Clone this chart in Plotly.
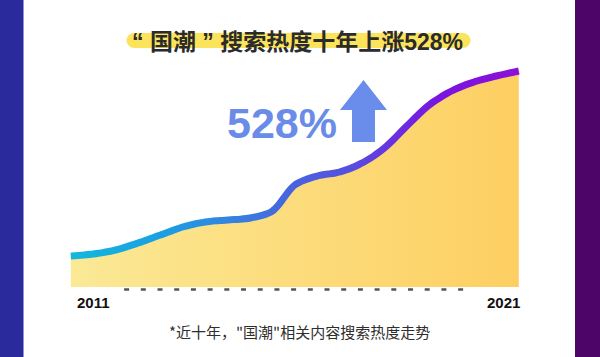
import plotly.graph_objects as go
from plotly.colors import sample_colorscale

# ---------------- data ----------------
years = [2011, 2011.5, 2012, 2012.5, 2013, 2013.5, 2014, 2014.5, 2015, 2015.5,
         2016, 2016.5, 2017, 2017.5, 2018, 2018.5, 2019, 2019.5, 2020, 2020.5, 2021]
heat = [31, 33, 37, 44, 52, 60, 65, 67, 69, 76,
        102, 111, 115, 124, 139, 161, 182, 196, 205, 211, 216]
tick_labels = ["2011", "2021"]
title_cjk = "国潮"
title_rest = "搜索热度十年上涨"
title_pct = "528%"
big_pct = "528%"
footnote = '*近十年，"国潮"相关内容搜索热度走势'

# ---------------- styles ----------------
W, H = 600, 357
XR = [2009.4196, 2022.8125]   # x axis range -> maps to full width
YR = [-70, 287]
LINE_SCALE = [[0.0, "#14b8dc"], [0.2, "#1aa0e2"], [0.35, "#3484e0"], [0.5, "#4a62de"],
              [0.62, "#5650e0"], [0.72, "#6a30e0"], [0.82, "#7a14e0"], [1.0, "#8c10d8"]]
FILL_SCALE = [[0.0, "#fbe996"], [1.0, "#fdcf62"]]
CJK = "Noto Sans CJK SC"
LAT = "Liberation Sans"


def pxx(x):
    return x / W


def pxy(y):
    return 1 - y / H


def paper_to_year(p):
    return XR[0] + p * (XR[1] - XR[0])


fig = go.Figure()

# area fill
fig.add_trace(go.Scatter(
    x=years, y=heat, mode="lines", fill="tozeroy",
    line=dict(width=0, color="rgba(0,0,0,0)", shape="spline", smoothing=1),
    fillgradient=dict(type="horizontal", colorscale=FILL_SCALE),
    hoverinfo="skip", showlegend=False))

# gradient line: the same spline drawn in thin vertical slices (one x-axis per slice,
# each with the same data->pixel mapping), each slice in its own colour
layout_axes = {}
slice_px = 6
left_px, right_px = 66, 528
edges = list(range(left_px, right_px + 1, slice_px))
x_first, x_last = years[0], years[-1]
for k in range(len(edges) - 1):
    a, b = pxx(edges[k]), pxx(edges[k + 1])
    mid_year = paper_to_year((a + b) / 2)
    t = min(1.0, max(0.0, (mid_year - x_first) / (x_last - x_first)))
    col = sample_colorscale(LINE_SCALE, [t])[0]
    ax_name = f"xaxis{k + 2}"
    layout_axes[ax_name] = dict(domain=[a, b], range=[paper_to_year(a), paper_to_year(b)],
                                anchor="y", visible=False, fixedrange=True)
    fig.add_trace(go.Scatter(
        x=years, y=heat, mode="lines", xaxis=f"x{k + 2}", yaxis="y",
        line=dict(width=7, color=col, shape="spline", smoothing=1),
        hoverinfo="skip", showlegend=False))

shapes = [
    dict(type="rect", xref="paper", yref="paper", x0=0, x1=pxx(23.5), y0=0, y1=1,
         fillcolor="#2b2a9c", line=dict(width=0), layer="below"),
    dict(type="rect", xref="paper", yref="paper", x0=pxx(575), x1=1, y0=0, y1=1,
         fillcolor="#4e0568", line=dict(width=0), layer="below"),
    # title highlight
    dict(type="rect", xref="paper", yref="paper", x0=pxx(134), x1=pxx(463),
         y0=pxy(48), y1=pxy(33), fillcolor="#fbe45c", line=dict(width=0), layer="below"),
    dict(type="circle", xref="paper", yref="paper", x0=pxx(126.5), x1=pxx(141.5),
         y0=pxy(48), y1=pxy(33), fillcolor="#fbe45c", line=dict(width=0), layer="below"),
    dict(type="circle", xref="paper", yref="paper", x0=pxx(455.5), x1=pxx(470.5),
         y0=pxy(48), y1=pxy(33), fillcolor="#fbe45c", line=dict(width=0), layer="below"),
    # dashed baseline
    dict(type="line", xref="x", yref="y", x0=2012.19, x1=2019.8, y0=-2.5, y1=-2.5,
         line=dict(color="#555555", width=2.5, dash="5px,11.7px"), layer="below"),
]

# arrow
arrow_pts = [(340, 110), (363.5, 80), (387, 110), (375, 110), (375, 142), (352, 142), (352, 110)]
path = "M " + " L ".join(f"{pxx(a):.5f},{pxy(b):.5f}" for a, b in arrow_pts) + " Z"
shapes.append(dict(type="path", xref="paper", yref="paper", path=path,
                   fillcolor="#6a8cea", line=dict(width=0)))

title_html = (f"<span style='font-family:{LAT}'>“ </span>{title_cjk}"
              f"<span style='font-family:{LAT}'> ” </span>{title_rest}"
              f"<span style='font-family:{LAT}'>{title_pct}</span>")

annotations = [
    dict(text=title_html, x=pxx(297.5), y=pxy(40), xref="paper", yref="paper", showarrow=False,
         xanchor="center", yanchor="middle",
         font=dict(family=CJK, size=23, color="#2b2b2b", weight=700)),
    dict(text=big_pct, x=pxx(282), y=pxy(123), xref="paper", yref="paper", showarrow=False,
         xanchor="center", yanchor="middle",
         font=dict(family=LAT, size=43, color="#6a8ce8", weight=700)),
    dict(text=tick_labels[0], x=pxx(93), y=pxy(302), xref="paper", yref="paper", showarrow=False,
         xanchor="center", yanchor="middle",
         font=dict(family=LAT, size=15, color="#111111", weight=700)),
    dict(text=tick_labels[1], x=pxx(503.5), y=pxy(302), xref="paper", yref="paper", showarrow=False,
         xanchor="center", yanchor="middle",
         font=dict(family=LAT, size=15, color="#111111", weight=700)),
    dict(text=footnote, x=pxx(299), y=pxy(331.5), xref="paper", yref="paper", showarrow=False,
         xanchor="center", yanchor="middle",
         font=dict(family=CJK, size=15, color="#2e2e2e")),
]

fig.update_layout(
    width=W, height=H, margin=dict(l=0, r=0, t=0, b=0),
    paper_bgcolor="white", plot_bgcolor="rgba(0,0,0,0)",
    xaxis=dict(domain=[0, 1], range=XR, visible=False, fixedrange=True),
    yaxis=dict(range=YR, visible=False, fixedrange=True),
    shapes=shapes, annotations=annotations, showlegend=False,
    **layout_axes,
)

fig.write_html("out.html", config={"displayModeBar": False},
               post_script="document.body.style.margin='0';document.body.style.overflow='hidden';")
